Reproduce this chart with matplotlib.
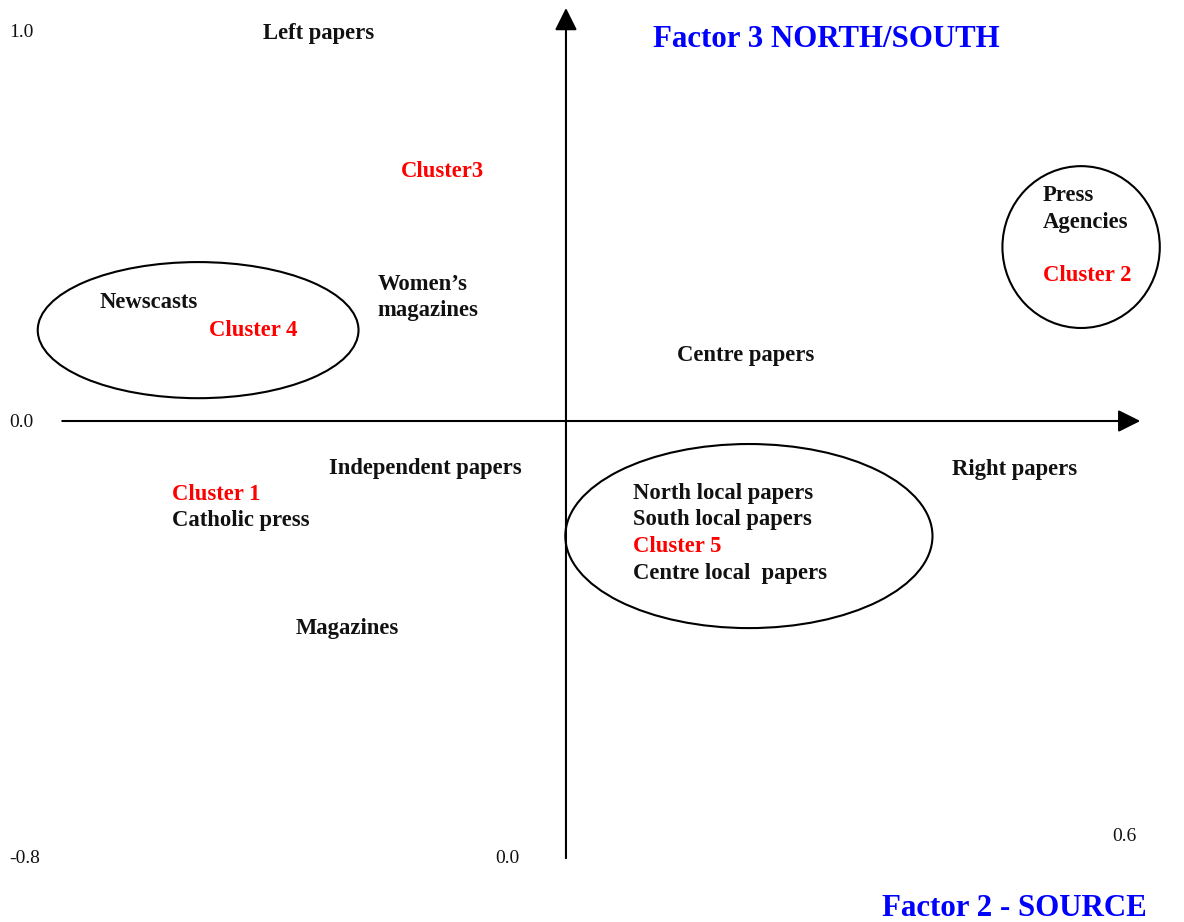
import matplotlib
matplotlib.use("Agg")
import matplotlib.pyplot as plt
from matplotlib.patches import Ellipse

plt.rcParams["font.family"] = ["Liberation Serif", "DejaVu Serif"]

# labels placed on the factor plane (x = Factor 2, y = Factor 3, schematic units)
label_texts = [
    "Left papers", "Cluster3", "Press", "Agencies", "Cluster 2",
    "Women\u2019s", "magazines", "Newscasts", "Cluster 4", "Centre papers",
    "Independent papers", "Right papers", "Cluster 1", "Catholic press",
    "North local papers", "South local papers", "Cluster 5",
    "Centre local  papers", "Magazines",
]
label_x = [
    -0.451, -0.245, 0.709, 0.709, 0.709,
    -0.280, -0.280, -0.694, -0.531, 0.165,
    -0.352, 0.574, -0.586, -0.586,
    0.100, 0.100, 0.100,
    0.100, -0.402,
]
label_y = [
    0.993, 0.639, 0.578, 0.508, 0.372,
    0.349, 0.283, 0.303, 0.231, 0.167,
    -0.122, -0.125, -0.189, -0.256,
    -0.186, -0.253, -0.322,
    -0.392, -0.533,
]
is_cluster = [t.startswith("Cluster") for t in label_texts]

# cluster outlines: centre x, centre y, width, height
cluster_cx = [-0.547, 0.766, 0.272]
cluster_cy = [0.233, 0.446, -0.295]
cluster_w = [0.477, 0.234, 0.546]
cluster_h = [0.349, 0.415, 0.472]

# scale values written around the plane
scale_texts = ["1.0", "0.0", "-0.8", "0.0", "0.6"]
scale_x = [-0.828, -0.828, -0.828, -0.105, 0.812]
scale_y = [0.996, -0.004, -1.122, -1.122, -1.066]

x_axis_span = (-0.749, 0.854)
y_axis_span = (-1.121, 1.059)

fig = plt.figure(figsize=(11.84, 9.22), dpi=100)
ax = fig.add_axes([0, 0, 1, 1])
ax.set_xlim(-0.8416, 0.9190)
ax.set_ylim(-1.2846, 1.0795)
ax.axis("off")

arrow = dict(arrowstyle="-|>", lw=1.5, color="black", mutation_scale=34, shrinkA=0, shrinkB=0)
ax.annotate("", xy=(x_axis_span[1], 0), xytext=(x_axis_span[0], 0), arrowprops=arrow)
ax.annotate("", xy=(0, y_axis_span[1]), xytext=(0, y_axis_span[0]), arrowprops=arrow)

for cx, cy, w, h in zip(cluster_cx, cluster_cy, cluster_w, cluster_h):
    ax.add_patch(Ellipse((cx, cy), w, h, fill=False, ec="black", lw=1.5))

for text, x, y, cl in zip(label_texts, label_x, label_y, is_cluster):
    ax.text(x, y, text, ha="left", va="center", fontsize=16.3, fontweight="bold",
            color="#ff0000" if cl else "#111111")

for text, x, y in zip(scale_texts, scale_x, scale_y):
    ax.text(x, y, text, ha="left", va="center", fontsize=14, color="#111111")

ax.text(0.129, 0.978, "Factor 3 NORTH/SOUTH", ha="left", va="center",
        fontsize=22.2, fontweight="bold", color="#0000ff")
ax.text(0.470, -1.250, "Factor 2 - SOURCE", ha="left", va="center",
        fontsize=22.2, fontweight="bold", color="#0000ff")

fig.savefig("out.png", dpi=100)
